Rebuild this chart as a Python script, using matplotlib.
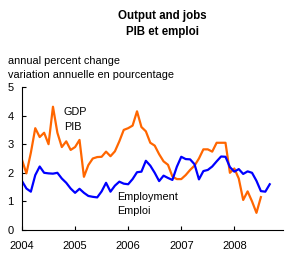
import matplotlib
matplotlib.use("Agg")
import matplotlib.pyplot as plt
import numpy as np

plt.rcParams['font.family'] = ['Liberation Sans', 'DejaVu Sans']

# Monthly data, Jan 2004 onwards
gdp = [2.45, 1.98, 2.7, 3.56, 3.25, 3.4, 3.0, 4.31, 3.4, 2.9, 3.1, 2.8,
       2.9, 3.15, 1.86, 2.27, 2.5, 2.55, 2.56, 2.74, 2.58, 2.75, 3.1, 3.5,
       3.56, 3.65, 4.15, 3.6, 3.45, 3.05, 2.95, 2.65, 2.4, 2.28, 1.87, 1.78,
       1.78, 1.92, 2.1, 2.25, 2.5, 2.82, 2.82, 2.74, 3.05, 3.05, 3.05, 2.0,
       2.15, 1.8, 1.05, 1.35, 1.0, 0.6, 1.15]
employment = [1.71, 1.45, 1.34, 1.92, 2.22, 2.0, 1.98, 1.97, 2.0, 1.8, 1.65, 1.45,
              1.3, 1.44, 1.3, 1.19, 1.16, 1.14, 1.35, 1.65, 1.34, 1.55, 1.69, 1.62,
              1.6, 1.78, 2.02, 2.04, 2.42, 2.25, 2.0, 1.71, 1.9, 1.82, 1.75, 2.21,
              2.56, 2.48, 2.47, 2.3, 1.77, 2.06, 2.1, 2.22, 2.4, 2.57, 2.56, 2.2,
              2.04, 2.13, 1.96, 2.05, 2.0, 1.72, 1.36, 1.34, 1.6]
year_labels = ['2004', '2005', '2006', '2007', '2008']
yticks = [0, 1, 2, 3, 4, 5]

W, H = 307, 262
fig = plt.figure(figsize=(W / 100, H / 100), dpi=100)
ax = fig.add_axes([22 / W, (H - 230) / H, (283 - 22) / W, (230 - 87) / H])

ax.plot(np.arange(len(gdp)), gdp, color='#FF6600', lw=1.6)
ax.plot(np.arange(len(employment)), employment, color='#0000FF', lw=1.6)

ax.set_xlim(0, 59)
ax.set_ylim(0, 5)
ax.set_xticks([12 * i for i in range(len(year_labels))])
ax.set_xticklabels(year_labels)
ax.set_yticks(yticks)
ax.tick_params(direction='in', length=3, width=0.8, labelsize=8)
ax.tick_params(axis='x', pad=8)
ax.tick_params(axis='y', pad=6)
ax.spines['top'].set_visible(False)
ax.spines['right'].set_visible(False)

fig.text(162 / W, 1 - 16 / H, 'Output and jobs', ha='center', va='center', fontsize=8.3, fontweight='bold')
fig.text(162 / W, 1 - 32 / H, 'PIB et emploi', ha='center', va='center', fontsize=8.3, fontweight='bold')
fig.text(8 / W, 1 - 61 / H, 'annual percent change', ha='left', va='center', fontsize=7.8)
fig.text(8 / W, 1 - 75 / H, 'variation annuelle en pourcentage', ha='left', va='center', fontsize=7.8)

fig.text(64 / W, 1 - 112 / H, 'GDP', ha='left', va='center', fontsize=7.8)
fig.text(64 / W, 1 - 127 / H, 'PIB', ha='left', va='center', fontsize=7.8)
fig.text(117 / W, 1 - 197 / H, 'Employment', ha='left', va='center', fontsize=7.8)
fig.text(117 / W, 1 - 211 / H, 'Emploi', ha='left', va='center', fontsize=7.8)

fig.savefig('out.png', dpi=100)
